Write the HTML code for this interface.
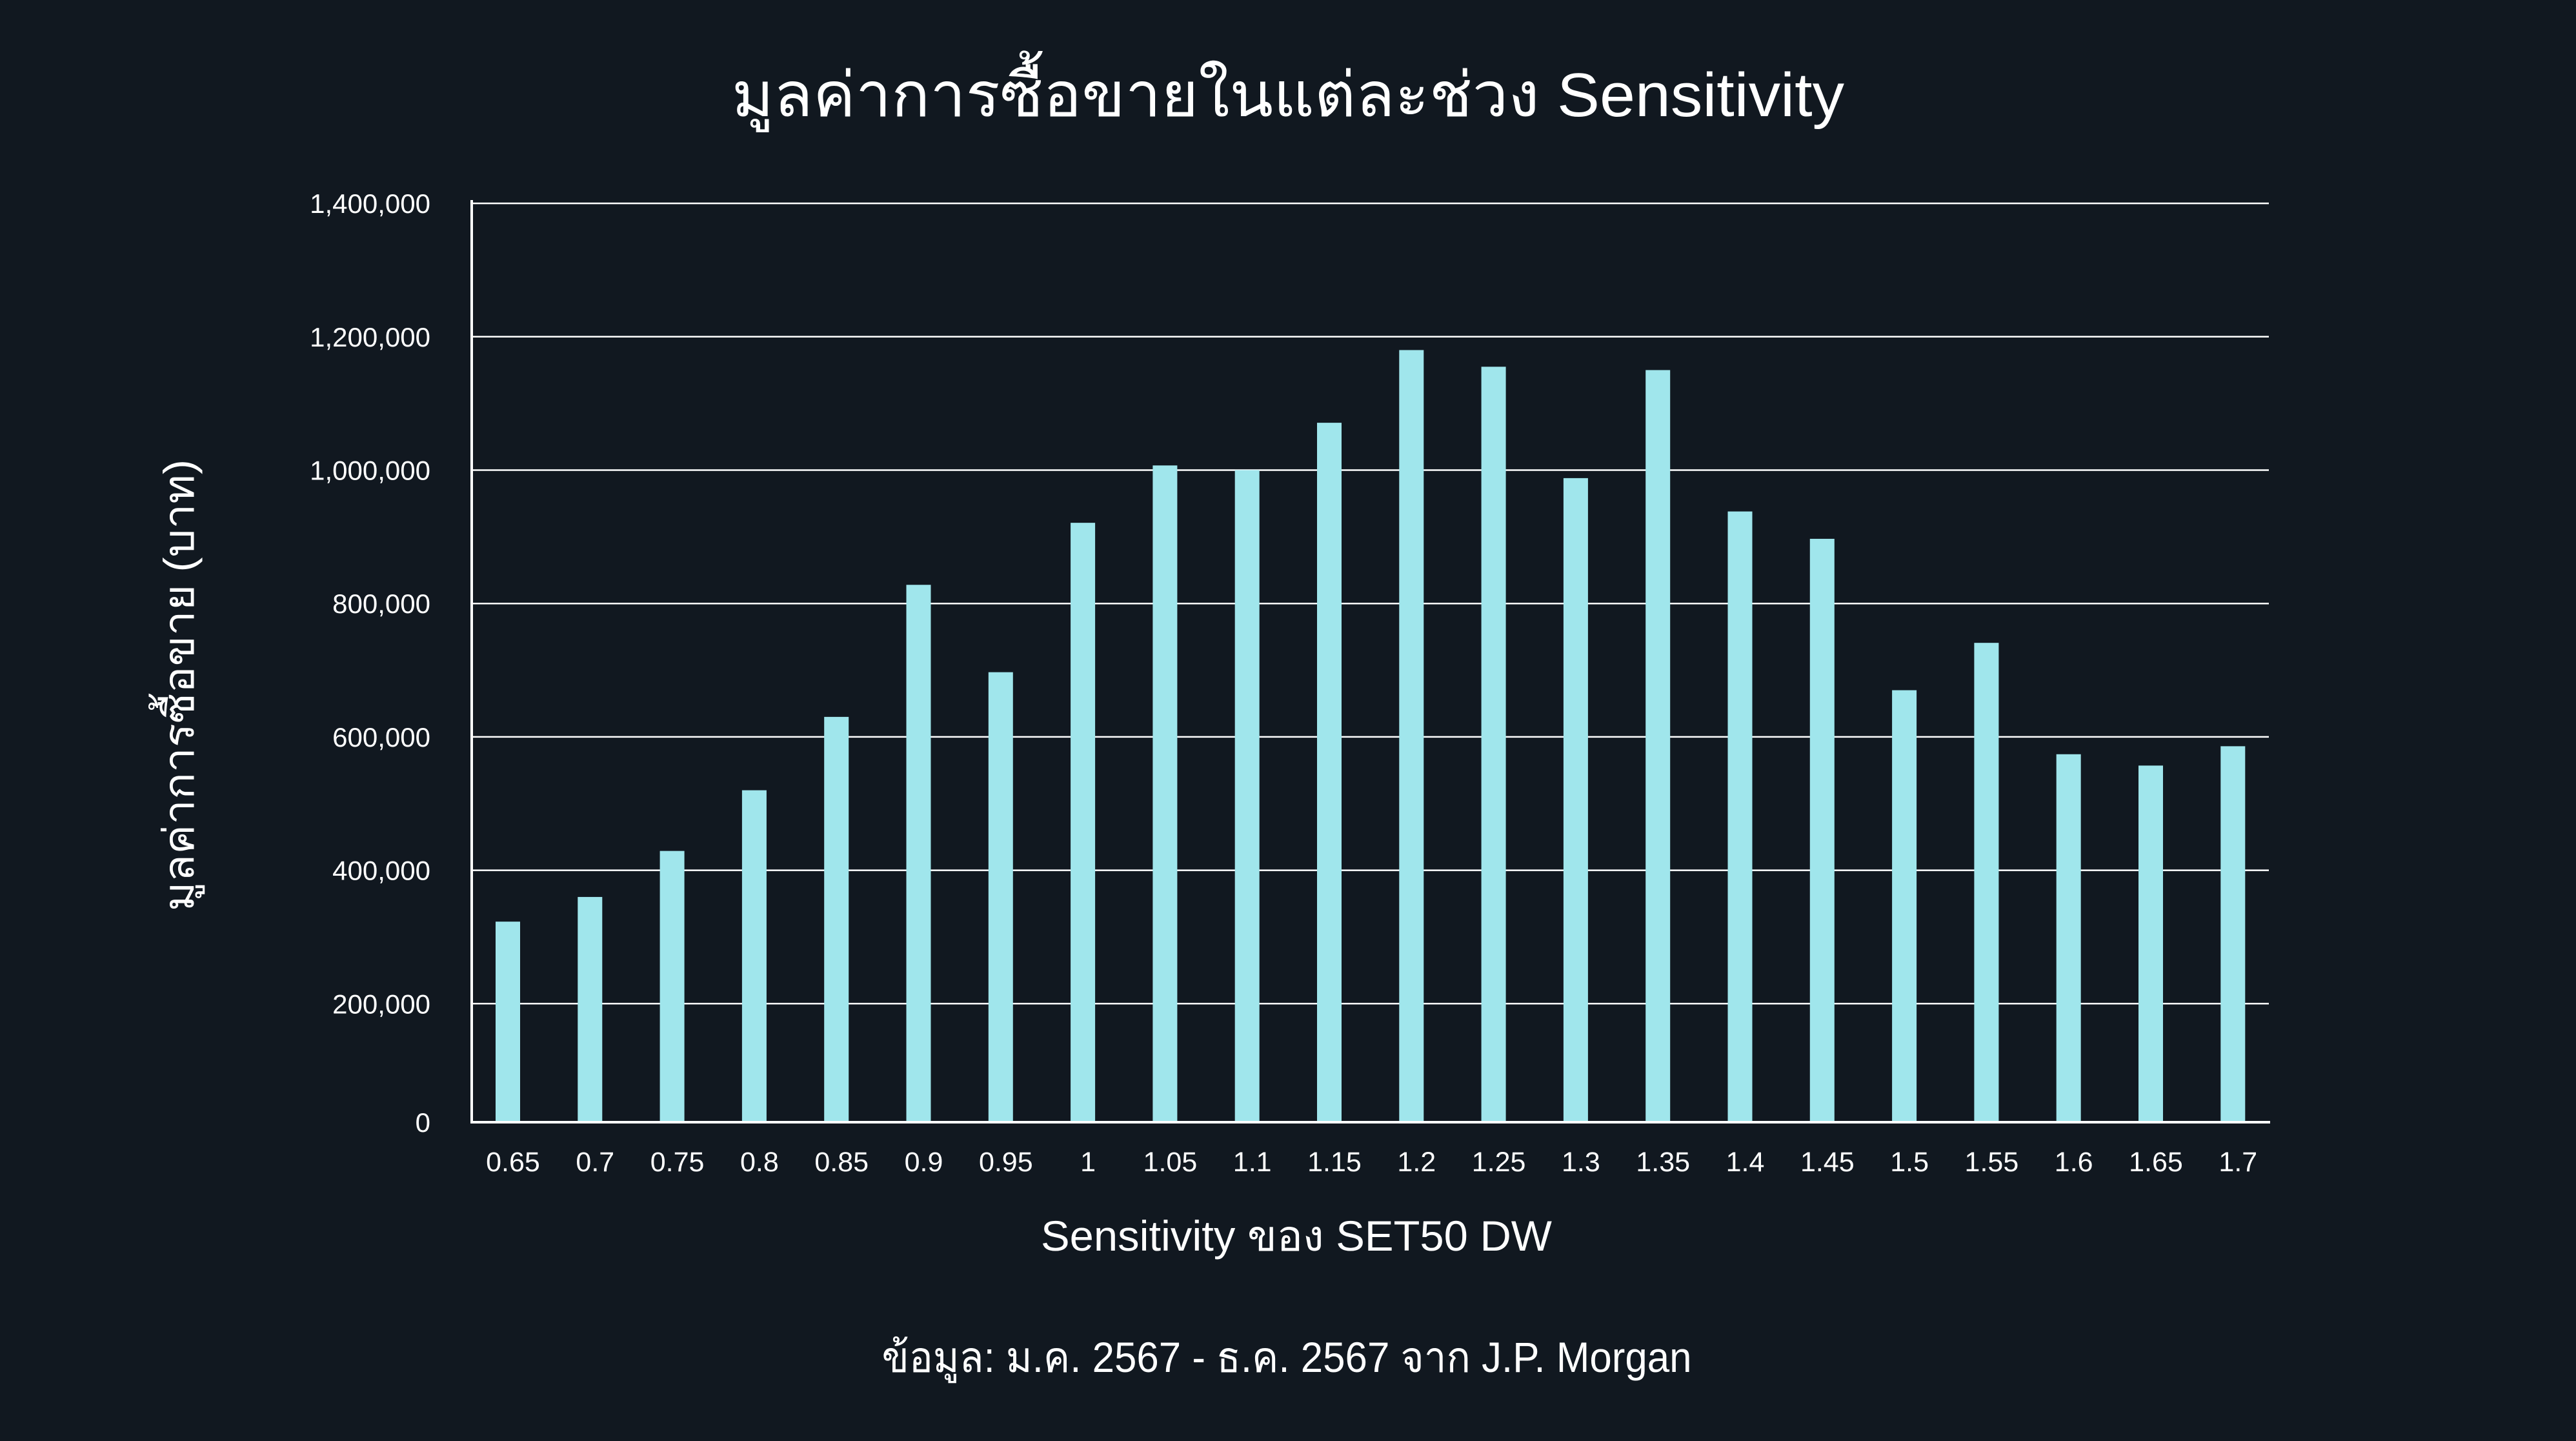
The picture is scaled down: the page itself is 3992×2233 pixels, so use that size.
<!DOCTYPE html>
<html><head><meta charset="utf-8">
<style>
html,body{margin:0;padding:0;background:#111820;}
svg{display:block;}
text{font-family:"Liberation Sans","Noto Sans CJK SC",sans-serif;fill:#ffffff;}
</style></head>
<body>
<svg id="chart" width="3992" height="2233" viewBox="0 0 3992 2233" xmlns="http://www.w3.org/2000/svg">
<rect x="0" y="0" width="3992" height="2233" fill="#111820"/>
<text x="1996" y="180" font-size="96" text-anchor="middle" textLength="1724" lengthAdjust="spacingAndGlyphs">มูลค่าการซื้อขายในแต่ละช่วง Sensitivity</text>
<g id="grid"></g>
<g id="bars"></g>
<g id="ylabels"></g>
<g id="xlabels"></g>
<line x1="731" y1="310" x2="731" y2="1741" stroke="#ffffff" stroke-width="4"/>
<line x1="729" y1="1739" x2="3518" y2="1739" stroke="#ffffff" stroke-width="4"/>
<text transform="translate(300,1062) rotate(-90)" font-size="66" text-anchor="middle" textLength="700" lengthAdjust="spacingAndGlyphs">มูลค่าการซื้อขาย (บาท)</text>
<text x="2009" y="1938" font-size="66" text-anchor="middle" textLength="792" lengthAdjust="spacingAndGlyphs">Sensitivity ของ SET50 DW</text>
<text x="1994" y="2126" font-size="66" text-anchor="middle" textLength="1255" lengthAdjust="spacingAndGlyphs">ข้อมูล: ม.ค. 2567 - ธ.ค. 2567 จาก J.P. Morgan</text>
</svg>
<script>
const categories = ["0.65","0.7","0.75","0.8","0.85","0.9","0.95","1","1.05","1.1","1.15","1.2","1.25","1.3","1.35","1.4","1.45","1.5","1.55","1.6","1.65","1.7"];
const values = [323000,360000,429000,520000,630000,828000,697000,921000,1007000,1000000,1071000,1180000,1155000,988000,1150000,938000,897000,670000,741000,574000,557000,586000];
const yTicks = [0,200000,400000,600000,800000,1000000,1200000,1400000];
const yTickLabels = ["0","200,000","400,000","600,000","800,000","1,000,000","1,200,000","1,400,000"];

const NS = "http://www.w3.org/2000/svg";
const plotLeft = 731, plotRight = 3516, zeroY = 1762, pxPer = 206.7/200000, axisY = 1739;
const firstCenter = 787, step = 127.3, barW = 38;
function yScale(v){ return zeroY - v*pxPer; }
function xScale(i){ return firstCenter + i*step; }

const grid = document.getElementById('grid');
const ylab = document.getElementById('ylabels');
yTicks.forEach((t,i)=>{
  const y = t===0 ? axisY : yScale(t);
  if(t!==0){
    const l = document.createElementNS(NS,'line');
    
    
    l.setAttribute('x1',plotLeft); l.setAttribute('x2',plotRight);
    l.setAttribute('y1',y); l.setAttribute('y2',y);
    l.setAttribute('stroke','#ffffff'); l.setAttribute('stroke-width','2.5');
    grid.appendChild(l);
  }
  const tx = document.createElementNS(NS,'text');
  
  
  tx.setAttribute('x',667); tx.setAttribute('y',y+15);
  tx.setAttribute('font-size','42'); tx.setAttribute('text-anchor','end');
  tx.textContent = yTickLabels[i];
  ylab.appendChild(tx);
});

const bars = document.getElementById('bars');
const xlab = document.getElementById('xlabels');
categories.forEach((c,i)=>{
  const cx = xScale(i), top = yScale(values[i]);
  const r = document.createElementNS(NS,'rect');
  
  
  r.setAttribute('x',cx-barW/2); r.setAttribute('y',top);
  r.setAttribute('width',barW); r.setAttribute('height',axisY+2-top);
  r.setAttribute('fill','#a0e6ec');
  bars.appendChild(r);
  const t = document.createElementNS(NS,'text');
  
  
  t.setAttribute('x',cx+8); t.setAttribute('y',1815);
  t.setAttribute('font-size','43'); t.setAttribute('text-anchor','middle');
  t.textContent = c;
  xlab.appendChild(t);
});
</script>
</body></html>
